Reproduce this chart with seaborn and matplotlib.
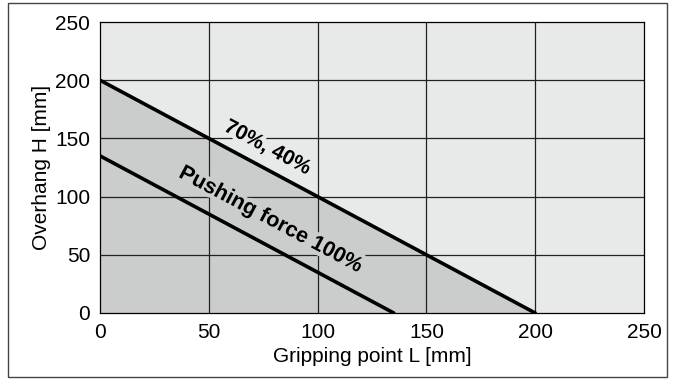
import numpy as np
import pandas as pd
import seaborn as sns
import matplotlib.pyplot as plt
import matplotlib.patheffects as pe
from matplotlib.patches import Rectangle

# boundary lines (gripping point L vs overhang H)
L_7040 = [0, 200]
H_7040 = [200, 0]
L_100 = [0, 135]
H_100 = [135, 0]
ticks = [0, 50, 100, 150, 200, 250]

light = '#e8e9e9'
dark = '#cbcccc'

sns.set_style('white')
plt.rcParams['font.family'] = ['Liberation Sans', 'DejaVu Sans']

fig = plt.figure(figsize=(6.73, 3.79), dpi=100)
ax = fig.add_axes([100/673, 1 - 313/379, 544/673, 291/379])

# background and shaded region under the 70%, 40% line
ax.set_facecolor(light)
ax.fill_between(L_7040, H_7040, 0, color=dark, zorder=1, lw=0)

# grid
for t in ticks[1:-1]:
    ax.axvline(t, color='#222222', lw=0.9, zorder=2)
    ax.axhline(t, color='#222222', lw=0.9, zorder=2)

df = pd.DataFrame({'L': L_7040 + L_100, 'H': H_7040 + H_100,
                   'curve': ['70%, 40%'] * 2 + ['100%'] * 2})
sns.lineplot(data=df, x='L', y='H', hue='curve', palette=['black', 'black'],
             lw=2.6, legend=False, ax=ax, zorder=4)

ax.set_xlim(0, 250)
ax.set_ylim(0, 250)
ax.set_xticks(ticks)
ax.set_yticks(ticks)
ax.tick_params(labelsize=15, length=0, pad=7, labelcolor='black')
ax.set_xlabel('Gripping point L [mm]', fontsize=15, labelpad=4, color='black')
ax.set_ylabel('Overhang H [mm]', fontsize=15, labelpad=3, color='black')
for s in ax.spines.values():
    s.set_color('black')
    s.set_linewidth(0.9)

ang = -28
ax.text(77, 142, '70%, 40%', rotation=ang, ha='center', va='center', color='black',
        fontsize=15, fontweight='bold', zorder=5, rotation_mode='anchor',
        path_effects=[pe.withStroke(linewidth=6, foreground=light)])
ax.text(78.5, 80, 'Pushing force 100%', rotation=ang, ha='center', va='center', color='black',
        fontsize=15.5, fontweight='bold', zorder=5, rotation_mode='anchor',
        path_effects=[pe.withStroke(linewidth=6, foreground=dark)])

# outer frame
fig.patches.append(Rectangle((8/673, 2/379), 659/673, 374/379, transform=fig.transFigure,
                             fill=False, edgecolor='#444444', lw=1))

fig.savefig('out.png', dpi=100)
